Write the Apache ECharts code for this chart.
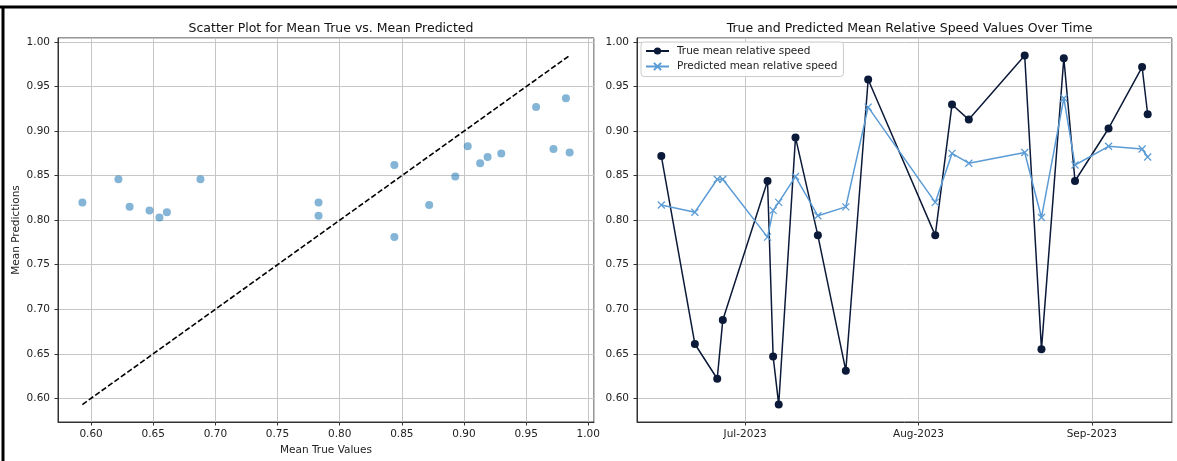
<!DOCTYPE html>
<html>
<head>
<meta charset="utf-8">
<script src="https://cdn.jsdelivr.net/npm/echarts@6/dist/echarts.min.js"></script>
<style>
html,body{margin:0;padding:0;background:#fff;}
#chart{width:1177px;height:461px;}
</style>
</head>
<body>
<div id="chart"></div>
<script>
// ---- data ----
const dates = ['2023-06-16','2023-06-22','2023-06-26','2023-06-27','2023-07-05','2023-07-06','2023-07-07','2023-07-10','2023-07-14','2023-07-19','2023-07-23','2023-08-04','2023-08-07','2023-08-10','2023-08-20','2023-08-23','2023-08-27','2023-08-29','2023-09-04','2023-09-10','2023-09-11'];
const trueVals = [0.872,0.661,0.622,0.688,0.844,0.647,0.593,0.893,0.783,0.631,0.958,0.783,0.930,0.913,0.985,0.655,0.982,0.844,0.903,0.972,0.919];
const predVals = [0.817,0.809,0.846,0.846,0.781,0.811,0.820,0.849,0.805,0.815,0.927,0.820,0.875,0.864,0.876,0.803,0.937,0.862,0.883,0.880,0.871];
const tickDates = ['2023-07-01','2023-08-01','2023-09-01'];
const tickLabels = ['Jul-2023','Aug-2023','Sep-2023'];
const titles = ['Scatter Plot for Mean True vs. Mean Predicted','True and Predicted Mean Relative Speed Values Over Time'];
const seriesNames = ['True mean relative speed','Predicted mean relative speed'];

// ---- helpers ----
const FONT = 'DejaVu Sans';
const toTime = s => new Date(s + 'T00:00:00').getTime();
const times = dates.map(toTime);
const tickTimes = tickDates.map(toTime);
const tMin = Math.min(...trueVals), tMax = Math.max(...trueVals);
const vPad = 0.05 * (tMax - tMin);
const vMin = tMin - vPad, vMax = tMax + vPad;
const dMin = Math.min(...times), dMax = Math.max(...times);
const dPad = 0.05 * (dMax - dMin);

const numFmt = v => (Math.abs(v * 20 - Math.round(v * 20)) < 1e-6) ? v.toFixed(2) : '';
const dateFmt = v => { const i = tickTimes.indexOf(v); return i >= 0 ? tickLabels[i] : ''; };

const axisCommon = {
  axisLine: {show: true, lineStyle: {color: '#333', width: 1}},
  axisTick: {show: true, length: 3.5, lineStyle: {color: '#333', width: 1}},
  splitLine: {show: true, lineStyle: {color: '#c6c6c6', width: 1}},
  axisLabel: {color: '#222', fontFamily: FONT, fontSize: 10.5, showMinLabel: false, showMaxLabel: false},
  nameTextStyle: {color: '#222', fontFamily: FONT, fontSize: 10.5}
};
function ax(extra) {
  const o = JSON.parse(JSON.stringify(axisCommon));
  for (const k in extra) {
    if (typeof extra[k] === 'object' && !Array.isArray(extra[k]) && o[k]) Object.assign(o[k], extra[k]);
    else o[k] = extra[k];
  }
  return o;
}

const gridL = {left: 58, top: 38, width: 536, height: 384};
const gridR = {left: 637, top: 38, width: 535, height: 384};

const chart = echarts.init(document.getElementById('chart'), null, {renderer: 'canvas'});
chart.setOption({
  animation: false,
  backgroundColor: '#fff',
  title: [
    {text: titles[0], left: gridL.left + gridL.width / 2, textAlign: 'center', top: 17,
     textStyle: {fontFamily: FONT, fontSize: 12.5, fontWeight: 'normal', color: '#111'}},
    {text: titles[1], left: gridR.left + gridR.width / 2, textAlign: 'center', top: 17,
     textStyle: {fontFamily: FONT, fontSize: 12.5, fontWeight: 'normal', color: '#111'}}
  ],
  grid: [
    Object.assign({show: true, borderColor: '#333', borderWidth: 1, containLabel: false}, gridL),
    Object.assign({show: true, borderColor: '#333', borderWidth: 1, containLabel: false}, gridR)
  ],
  xAxis: [
    ax({type: 'value', gridIndex: 0, min: vMin, max: vMax, splitNumber: 8, scale: true,
        name: 'Mean True Values', nameLocation: 'middle', nameGap: 20,
        axisLabel: {formatter: numFmt, margin: 7}}),
    ax({type: 'time', gridIndex: 1, min: dMin - dPad, max: dMax + dPad, splitNumber: 3,
        minInterval: 28 * 86400000, maxInterval: 31 * 86400000,
        axisLabel: {formatter: dateFmt, margin: 7, hideOverlap: false}})
  ],
  yAxis: [
    ax({type: 'value', gridIndex: 0, min: vMin, max: vMax, splitNumber: 8, scale: true,
        name: 'Mean Predictions', nameLocation: 'middle', nameGap: 36,
        axisLabel: {formatter: numFmt, margin: 8}}),
    ax({type: 'value', gridIndex: 1, min: vMin, max: vMax, splitNumber: 8, scale: true,
        axisLabel: {formatter: numFmt, margin: 8}})
  ],
  legend: {
    data: seriesNames,
    orient: 'vertical',
    left: 641, top: 42,
    padding: [3, 6, 4, 4],
    itemGap: 3.5,
    itemWidth: 23, itemHeight: 9,
    backgroundColor: 'rgba(255,255,255,0.85)',
    borderColor: '#cccccc', borderWidth: 1, borderRadius: 3,
    textStyle: {fontFamily: FONT, fontSize: 10.5, color: '#222', lineHeight: 12, padding: [0, 0, 0, 3]}
  },
  series: [
    {type: 'scatter', xAxisIndex: 0, yAxisIndex: 0, symbol: 'circle', symbolSize: 8,
     itemStyle: {color: '#1f77b4', opacity: 0.55},
     data: trueVals.map((t, i) => [t, predVals[i]])},
    {type: 'line', xAxisIndex: 0, yAxisIndex: 0, symbol: 'none', silent: true,
     lineStyle: {color: '#000', width: 1.6, type: [5.5, 2.4]},
     data: [[tMin, tMin], [tMax, tMax]]},
    {name: seriesNames[0], type: 'line', xAxisIndex: 1, yAxisIndex: 1,
     symbol: 'circle', symbolSize: 8, showAllSymbol: true,
     lineStyle: {color: '#0b1a38', width: 1.5},
     itemStyle: {color: '#0b1a38', borderWidth: 0},
     data: times.map((t, i) => [t, trueVals[i]])},
    {name: seriesNames[1], type: 'line', xAxisIndex: 1, yAxisIndex: 1,
     symbol: 'path://M0,0L10,10M10,0L0,10', symbolSize: 7, showAllSymbol: true,
     lineStyle: {color: '#5b9bd5', width: 1.5},
     itemStyle: {color: '#5b9bd5', borderColor: '#5b9bd5', borderWidth: 1.3},
     data: times.map((t, i) => [t, predVals[i]])}
  ],
  graphic: [
    {type: 'line', shape: {x1: 0, y1: 7, x2: 1177, y2: 7}, style: {stroke: '#000', lineWidth: 3}},
    {type: 'line', shape: {x1: 3, y1: 6, x2: 3, y2: 461}, style: {stroke: '#000', lineWidth: 3}}
  ]
});
</script>
</body>
</html>
